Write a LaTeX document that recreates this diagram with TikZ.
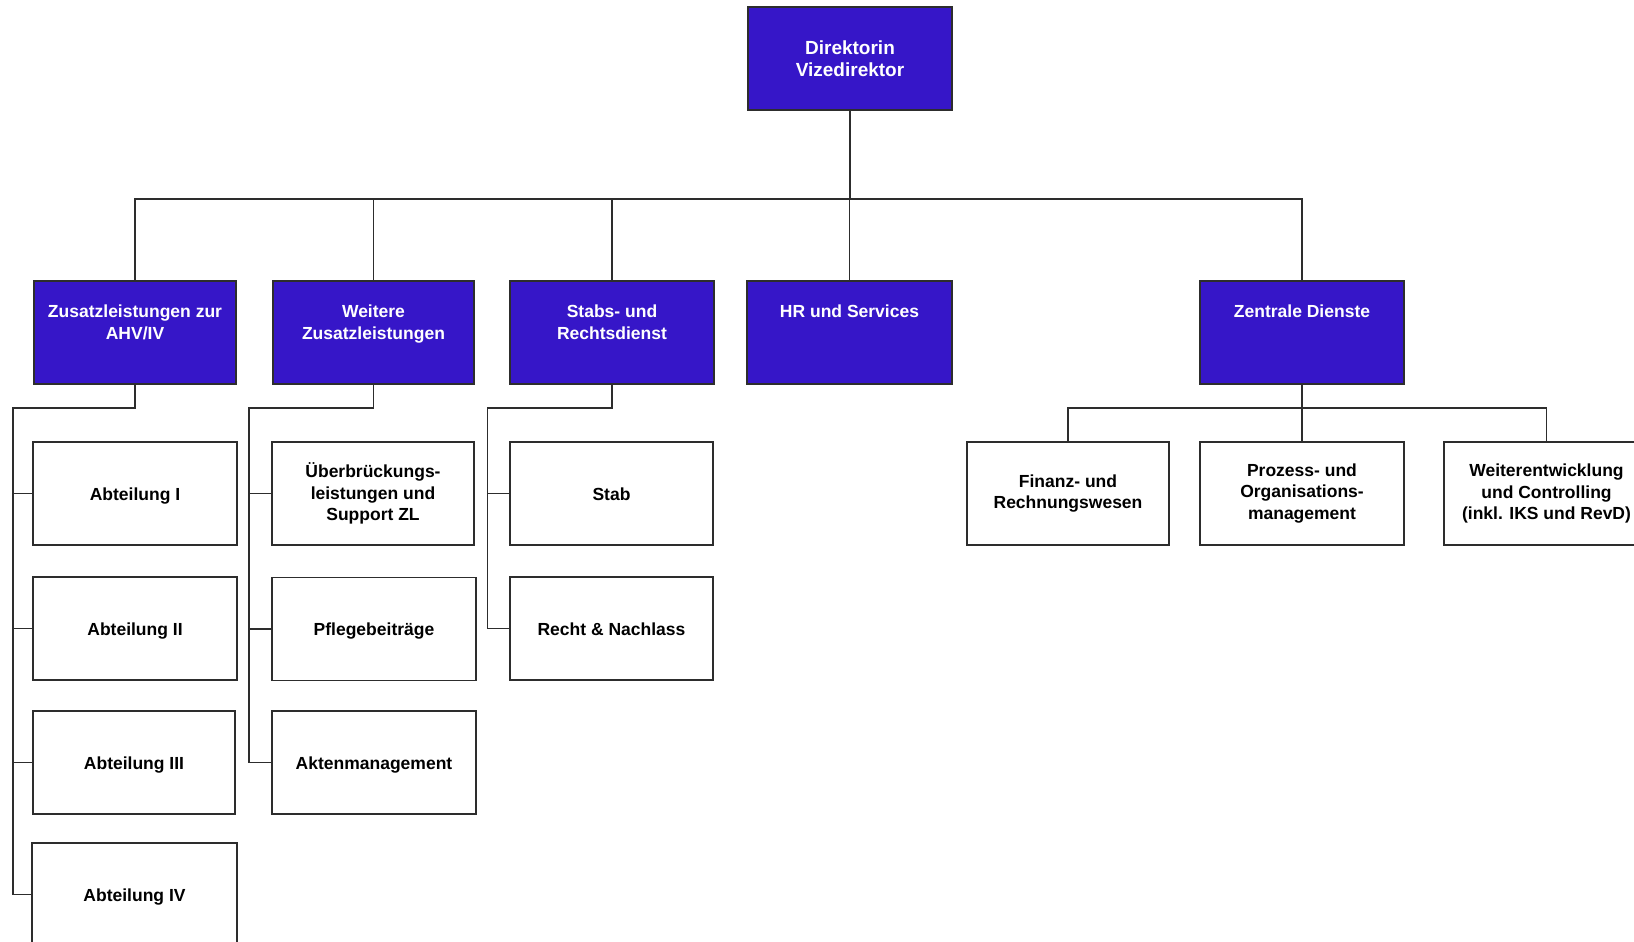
\documentclass[tikz,border=0pt]{standalone}
\usepackage{fontspec}
\setmainfont{Liberation Sans}
\definecolor{boxblue}{RGB}{54,22,200}
\definecolor{linegray}{RGB}{45,45,45}
\newcommand{\toptext}[1]{\parbox[c][103pt][t]{200pt}{\centering\rule{0pt}{36.7pt}#1}}
\begin{document}
\begin{tikzpicture}[x=1pt,y=-1pt,
  conn/.style={draw=linegray, line width=1.3pt},
  unit/.style={draw=linegray, line width=1.3pt, inner sep=0pt,
    minimum width=#1, minimum height=103pt, align=center,
    font=\bfseries\fontsize{17.5}{21.5}\selectfont},
  bluebox/.style={unit=#1, fill=boxblue, text=white},
  whitebox/.style={unit=#1, fill=white, text=black},
  oneline/.style={text height=13pt, text depth=0pt}]
\useasboundingbox (0,0) rectangle (1634,942);
\clip (0,0) rectangle (1634,942);

% top
\node[bluebox=204pt, font=\bfseries\fontsize{19}{21.5}\selectfont] (dir) at (850,58.5) {Direktorin\\Vizedirektor};

% level 2
\node[bluebox=202pt] (zus) at (135,332.5) {\toptext{Zusatzleistungen zur\\AHV/IV}};
\node[bluebox=201pt] (wei) at (373.5,332.5) {\toptext{Weitere\\Zusatzleistungen}};
\node[bluebox=204pt] (sta) at (612,332.5) {\toptext{Stabs- und\\Rechtsdienst}};
\node[bluebox=205pt] (hr) at (849.5,332.5) {\toptext{HR und Services}};
\node[bluebox=204pt] (zen) at (1302,332.5) {\toptext{Zentrale Dienste}};

% level 3
\node[whitebox=204pt, oneline] (a1) at (135,493.5) {Abteilung I};
\node[whitebox=204pt, oneline] (a2) at (135,628.5) {Abteilung II};
\node[whitebox=202pt, oneline] (a3) at (134,762.5) {Abteilung III};
\node[whitebox=205pt, oneline] (a4) at (134.5,894.5) {Abteilung IV};

\node[whitebox=202pt] (u) at (373,493.5) {Überbrückungs-\\leistungen und\\Support ZL};
\node[whitebox=204pt, oneline] (p) at (374,629) {Pflegebeiträge};
\node[whitebox=204pt, oneline] (ak) at (374,762.5) {Aktenmanagement};

\node[whitebox=203pt, oneline] (stab) at (611.5,493.5) {Stab};
\node[whitebox=203pt, oneline] (recht) at (611.5,628.5) {Recht \& Nachlass};

\node[whitebox=202pt] (fin) at (1068,493.5) {Finanz- und\\Rechnungswesen};
\node[whitebox=204pt] (pro) at (1302,493.5) {Prozess- und\\Organisations-\\management};
\node[whitebox=205pt] (wen) at (1546.5,493.5) {Weiterentwicklung\\und Controlling\\(inkl. IKS und RevD)};

% top bus
\coordinate (bus) at (850,199);
\draw[conn] (dir.south) -- (bus);
\draw[conn] (zus.north) |- (bus) -| (zen.north);
\draw[conn] (wei.north) -- (wei.north |- bus);
\draw[conn] (sta.north) -- (sta.north |- bus);
\draw[conn] (hr.north) -- (hr.north |- bus);

% left column
\coordinate (zl) at (13,408);
\draw[conn] (zus.south) |- (zl) -- (zl |- a4.west) -- (a4.west);
\foreach \n in {a1,a2,a3} \draw[conn] (zl |- \n.west) -- (\n.west);

% second column
\coordinate (wl) at (249,408);
\draw[conn] (wei.south) |- (wl) -- (wl |- ak.west) -- (ak.west);
\foreach \n in {u,p} \draw[conn] (wl |- \n.west) -- (\n.west);

% third column
\coordinate (sl) at (487.5,408);
\draw[conn] (sta.south) |- (sl) -- (sl |- recht.west) -- (recht.west);
\draw[conn] (sl |- stab.west) -- (stab.west);

% Zentrale Dienste
\coordinate (zb) at (1302,408);
\draw[conn] (zen.south) -- (pro.north);
\draw[conn] (fin.north) |- (zb) -| (wen.north);
\end{tikzpicture}
\end{document}
